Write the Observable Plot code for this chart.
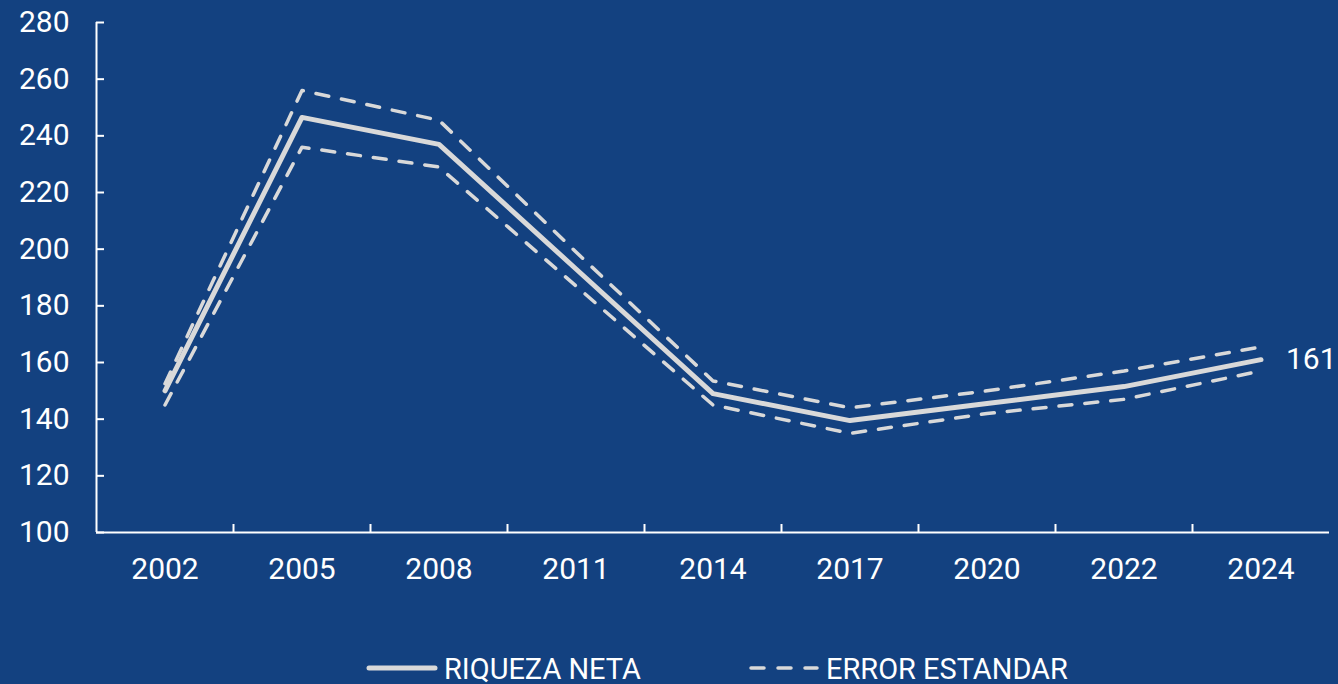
<!DOCTYPE html>
<html>
<head>
<meta charset="utf-8">
<script src="https://cdn.jsdelivr.net/npm/d3@7"></script>
<script src="https://cdn.jsdelivr.net/npm/@observablehq/plot@0.6"></script>
<style>
  html, body { margin: 0; padding: 0; background: #134180; width: 1338px; height: 684px; overflow: hidden; }
  #chart { position: absolute; left: 0; top: 0; }
  #legend { position: absolute; left: 0; top: 648px; width: 1338px; height: 36px; font-family: Roboto, sans-serif; font-size: 30px; color: #fff; }
  .item { position: absolute; top: 0; display: flex; align-items: center; height: 40px; }
  .lab { display: inline-block; transform: scaleX(0.965); transform-origin: left center; white-space: nowrap; margin-left: 6px; }
</style>
</head>
<body>
<div id="chart"></div>
<div id="legend">
  <div class="item" style="left:366px"><svg width="72" height="10"><line x1="3" y1="5" x2="69" y2="5" stroke="#d9d9d9" stroke-width="5" stroke-linecap="round"/></svg><span class="lab">RIQUEZA NETA</span></div>
  <div class="item" style="left:748px"><svg width="72" height="10"><line x1="3" y1="5" x2="69" y2="5" stroke="#d9d9d9" stroke-width="3.5" stroke-linecap="round" stroke-dasharray="13,14"/></svg><span class="lab">ERROR ESTANDAR</span></div>
</div>
<script>
const years = ["2002","2005","2008","2011","2014","2017","2020","2022","2024"];
const riqueza = [150, 246.5, 237, 193, 149, 139.5, 145.5, 151.5, 161];
const upper = [152.5, 256, 245.5, 199, 153.5, 144, 150, 157, 165.5];
const lower = [145, 236, 229, 187, 145, 135, 142, 147, 157];
const yTicks = [100,120,140,160,180,200,220,240,260,280];

const rows = years.map((y, i) => ({i, year: y, riqueza: riqueza[i], upper: upper[i], lower: lower[i]}));
const boundaries = years.slice(1).map((_, i) => i + 0.5);
const col = "#d9d9d9";

const plot = Plot.plot({
  width: 1338,
  height: 610,
  marginLeft: 96,
  marginRight: 9,
  marginTop: 22,
  marginBottom: 78,
  style: { background: "transparent", color: "#fff", fontFamily: "Roboto, sans-serif", fontSize: "30px" },
  x: { type: "linear", domain: [-0.5, years.length - 0.5] },
  y: { domain: [100, 280] },
  marks: [
    Plot.axisY({ ticks: yTicks, tickSize: 0, tickPadding: 27, label: null, fontSize: 30, fill: "#fff" }),
    Plot.axisX({ ticks: d3.range(years.length), tickFormat: i => years[i], tickSize: 0, tickPadding: 25, label: null, fontSize: 30, fill: "#fff" }),
    Plot.tickY(yTicks, { y: d => d, stroke: "#fff", strokeWidth: 2, insetRight: 1233 - 8 }),
    Plot.tickX(boundaries, { x: d => d, stroke: "#fff", strokeWidth: 2, insetTop: 510 - 8 }),
    Plot.ruleY([100], { stroke: "#fff", strokeWidth: 2 }),
    Plot.ruleX([-0.5], { stroke: "#fff", strokeWidth: 2 }),
    Plot.line(rows, { x: "i", y: "upper", stroke: col, strokeWidth: 3.5, strokeDasharray: "13,13", strokeLinecap: "round" }),
    Plot.line(rows, { x: "i", y: "lower", stroke: col, strokeWidth: 3.5, strokeDasharray: "13,13", strokeLinecap: "round" }),
    Plot.line(rows, { x: "i", y: "riqueza", stroke: col, strokeWidth: 5 }),
    Plot.text(rows.slice(-1), { x: "i", y: "riqueza", text: d => String(Math.round(d.riqueza)), dx: 25, textAnchor: "start", fill: "#fff", fontSize: 30 })
  ]
});
document.getElementById("chart").appendChild(plot);
</script>
</body>
</html>
